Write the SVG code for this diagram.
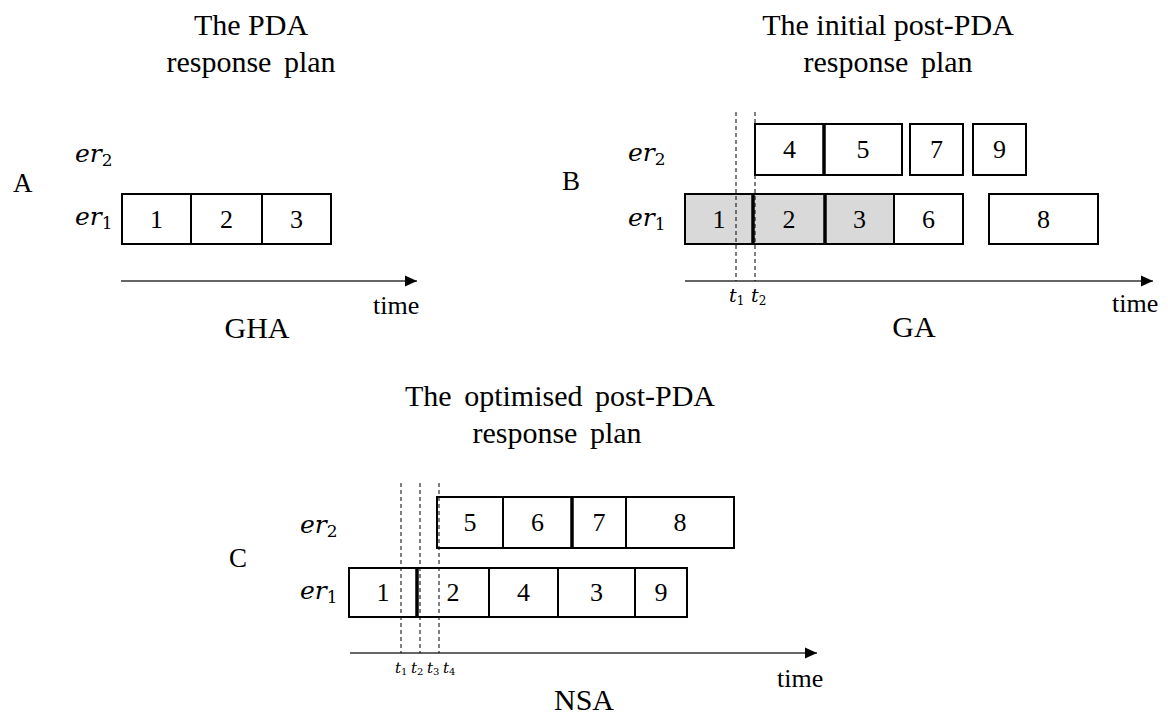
<svg xmlns="http://www.w3.org/2000/svg" width="1168" height="716" viewBox="0 0 1168 716" font-family="'Liberation Serif', 'Times New Roman', Times, serif">
<style>
text{font-family:'Liberation Serif','Times New Roman',Times,serif;fill:#000}
.title{font-size:30px;text-anchor:middle}
.ws{word-spacing:5px}
.cap{font-size:30px;text-anchor:middle}
.lbl{font-size:27px}
.num{font-size:26px;text-anchor:middle}
.time{font-size:26px}
.er{font-family:'DejaVu Serif',serif;font-style:italic;font-size:25px}
.sub{font-family:'DejaVu Serif',serif;font-style:normal;font-size:17px}
.t{font-family:'DejaVu Serif',serif;font-style:italic;font-size:19px}
.tsub{font-family:'DejaVu Serif',serif;font-style:normal;font-size:12px}
.tc{font-family:'DejaVu Serif',serif;font-style:italic;font-size:15px}
.tcsub{font-family:'DejaVu Serif',serif;font-style:normal;font-size:10px}
.box{fill:#fff;stroke:#000;stroke-width:2}
.done{fill:#d9d9d9;stroke:#000;stroke-width:2}
.axis{stroke:#333;stroke-width:1.5;fill:none}
.dash{stroke:#000;stroke-width:1;stroke-dasharray:4 3;fill:none}
.thick{stroke:#000;stroke-width:3.5}
</style>
<defs>
<marker id="arr" viewBox="0 0 12 12" refX="12" refY="6" markerWidth="12" markerHeight="12" markerUnits="userSpaceOnUse" orient="auto">
<path d="M0,0.5 L12,6 L0,11.5 Z" fill="#000"/>
</marker>
</defs>

<!-- Panel A -->
<g id="panelA-labels">
<text class="title" x="251" y="35">The PDA</text>
<text class="title ws" x="251" y="72">response plan</text>
<text class="lbl" x="13" y="192">A</text>
<text class="er" x="75" y="162">er<tspan class="sub" dy="4">2</tspan></text>
<text class="er" x="75" y="225">er<tspan class="sub" dy="4">1</tspan></text>
<text class="time" x="373" y="314">time</text>
<text class="cap" x="257" y="338">GHA</text>
</g>
<g id="A-task1"><rect class="box" x="122" y="194" width="69" height="50"/><text class="num" x="156.5" y="228">1</text></g>
<g id="A-task2"><rect class="box" x="191" y="194" width="71" height="50"/><text class="num" x="226.5" y="228">2</text></g>
<g id="A-task3"><rect class="box" x="262" y="194" width="69" height="50"/><text class="num" x="296.5" y="228">3</text></g>

<!-- Panel B -->
<g id="panelB-labels">
<text class="title" x="888" y="35">The initial post-PDA</text>
<text class="title ws" x="888" y="72">response plan</text>
<text class="lbl" x="562" y="190">B</text>
<text class="er" x="628" y="161">er<tspan class="sub" dy="4">2</tspan></text>
<text class="er" x="628" y="226">er<tspan class="sub" dy="4">1</tspan></text>
<text class="t" x="729" y="302">t<tspan class="tsub" dy="3">1</tspan></text>
<text class="t" x="751" y="302">t<tspan class="tsub" dy="3">2</tspan></text>
<text class="time" x="1112" y="312">time</text>
<text class="cap" x="914" y="337">GA</text>
</g>
<g id="B-task4"><rect class="box" x="755" y="124" width="69" height="51"/><text class="num" x="789.5" y="158">4</text></g>
<g id="B-task5"><rect class="box" x="824" y="124" width="78" height="51"/><text class="num" x="863" y="158">5</text></g>
<g id="B-task7"><rect class="box" x="910" y="124" width="53" height="51"/><text class="num" x="936.5" y="158">7</text></g>
<g id="B-task9"><rect class="box" x="973" y="124" width="53" height="51"/><text class="num" x="999.5" y="158">9</text></g>
<g id="B-task1"><rect class="done" x="685" y="194" width="68" height="50"/><text class="num" x="719" y="228">1</text></g>
<g id="B-task2"><rect class="done" x="753" y="194" width="72" height="50"/><text class="num" x="789" y="228">2</text></g>
<g id="B-task3"><rect class="done" x="825" y="194" width="69" height="50"/><text class="num" x="859.5" y="228">3</text></g>
<g id="B-task6"><rect class="box" x="894" y="194" width="69" height="50"/><text class="num" x="928.5" y="228">6</text></g>
<g id="B-task8"><rect class="box" x="989" y="194" width="109" height="50"/><text class="num" x="1043.5" y="228">8</text></g>

<!-- Panel C -->
<g id="panelC-labels">
<text class="title ws" x="560" y="406">The optimised post-PDA</text>
<text class="title ws" x="557" y="443">response plan</text>
<text class="lbl" x="229" y="567">C</text>
<text class="er" x="300" y="533">er<tspan class="sub" dy="4">2</tspan></text>
<text class="er" x="300" y="599">er<tspan class="sub" dy="4">1</tspan></text>
<text class="tc" x="395" y="673">t<tspan class="tcsub" dy="2">1</tspan></text>
<text class="tc" x="411" y="673">t<tspan class="tcsub" dy="2">2</tspan></text>
<text class="tc" x="427" y="673">t<tspan class="tcsub" dy="2">3</tspan></text>
<text class="tc" x="443" y="673">t<tspan class="tcsub" dy="2">4</tspan></text>
<text class="time" x="777" y="687">time</text>
<text class="cap" x="584" y="710">NSA</text>
</g>
<g id="C-task5"><rect class="box" x="437" y="497" width="66" height="51"/><text class="num" x="470" y="531">5</text></g>
<g id="C-task6"><rect class="box" x="503" y="497" width="69" height="51"/><text class="num" x="537.5" y="531">6</text></g>
<g id="C-task7"><rect class="box" x="572" y="497" width="54" height="51"/><text class="num" x="599" y="531">7</text></g>
<g id="C-task8"><rect class="box" x="626" y="497" width="108" height="51"/><text class="num" x="680" y="531">8</text></g>
<g id="C-task1"><rect class="box" x="349" y="568" width="68" height="49"/><text class="num" x="383" y="601">1</text></g>
<g id="C-task2"><rect class="box" x="417" y="568" width="72" height="49"/><text class="num" x="453" y="601">2</text></g>
<g id="C-task4"><rect class="box" x="489" y="568" width="69" height="49"/><text class="num" x="523.5" y="601">4</text></g>
<g id="C-task3"><rect class="box" x="558" y="568" width="77" height="49"/><text class="num" x="596.5" y="601">3</text></g>
<g id="C-task9"><rect class="box" x="635" y="568" width="52" height="49"/><text class="num" x="661" y="601">9</text></g>

<!-- thicker dividers -->
<g id="dividers">
<line class="thick" x1="753" y1="194" x2="753" y2="244"/>
<line class="thick" x1="824" y1="124" x2="824" y2="175"/>
<line class="thick" x1="825" y1="194" x2="825" y2="244"/>
<line class="thick" x1="417" y1="568" x2="417" y2="617"/>
<line class="thick" x1="572" y1="497" x2="572" y2="548"/>
</g>

<!-- connectors: axes and time markers -->
<g id="connectors">
<line class="axis" x1="121" y1="281" x2="417" y2="281" marker-end="url(#arr)"/>
<line class="axis" x1="685" y1="281" x2="1153" y2="281" marker-end="url(#arr)"/>
<line class="axis" x1="350" y1="653" x2="817" y2="653" marker-end="url(#arr)"/>
<line class="dash" x1="736" y1="112" x2="736" y2="281"/>
<line class="dash" x1="755" y1="112" x2="755" y2="281"/>
<line class="dash" x1="401" y1="483" x2="401" y2="653"/>
<line class="dash" x1="420" y1="483" x2="420" y2="653"/>
<line class="dash" x1="439" y1="483" x2="439" y2="653"/>
</g>
</svg>
